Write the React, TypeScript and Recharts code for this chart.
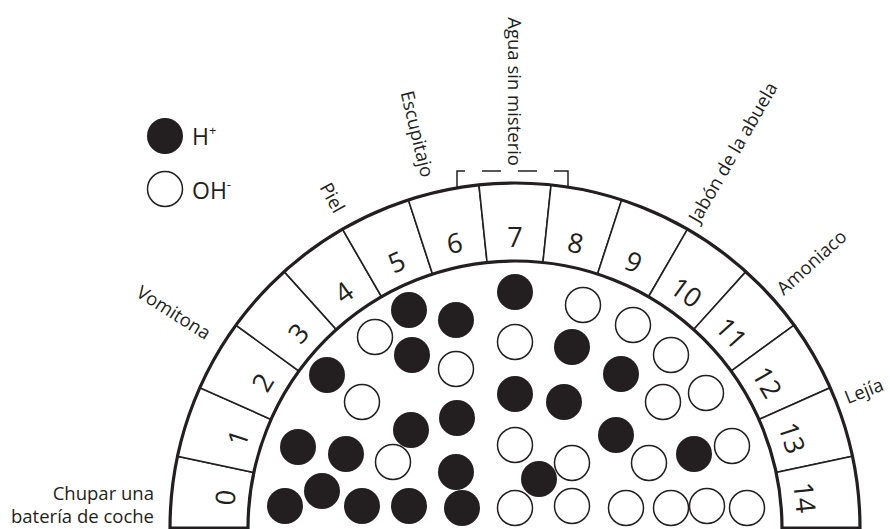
import React from "react";
import { PieChart, Pie, ScatterChart, Scatter, XAxis, YAxis } from "recharts";

// pH ring segments
const phValues = [0, 1, 2, 3, 4, 5, 6, 7, 8, 9, 10, 11, 12, 13, 14];

// everyday samples and where they sit on the scale
const sampleNames = ["Chupar una batería de coche", "Vomitona", "Piel", "Escupitajo", "Agua sin misterio", "Jabón de la abuela", "Amoniaco", "Lejía"];
const samplePh = [0, 2.2, 4.6, 5.85, 7, 9.5, 11, 12.7];

// ions drawn inside the half circle (x: offset from centre, y: height above base)
const hIons = [
  { x: -106, y: 218 }, { x: -59, y: 208 }, { x: -103, y: 173 }, { x: -188, y: 153 },
  { x: -104, y: 98 }, { x: -58, y: 110 }, { x: 0, y: 236 }, { x: 0, y: 134 },
  { x: -217, y: 81 }, { x: -169, y: 74 }, { x: -193, y: 37 }, { x: -230, y: 22 },
  { x: -153, y: 22 }, { x: -106, y: 22 }, { x: -59, y: 56 }, { x: -53, y: 20 },
  { x: 24, y: 49 }, { x: 57, y: 181 }, { x: 106, y: 154 }, { x: 49, y: 126 },
  { x: 101, y: 93 }, { x: 179, y: 74 },
];
const ohIons = [
  { x: -140, y: 191 }, { x: -153, y: 126 }, { x: -59, y: 159 }, { x: -122, y: 66 },
  { x: 0, y: 186 }, { x: 0, y: 83 }, { x: 0, y: 20 }, { x: 68, y: 223 },
  { x: 118, y: 203 }, { x: 156, y: 173 }, { x: 148, y: 126 }, { x: 191, y: 135 },
  { x: 57, y: 65 }, { x: 134, y: 65 }, { x: 217, y: 82 }, { x: 57, y: 22 },
  { x: 111, y: 20 }, { x: 156, y: 20 }, { x: 192, y: 22 }, { x: 232, y: 20 },
];

// dashed bracket over neutral water
const bracket = [{ x: -58, y: 341 }, { x: -58, y: 357 }, { x: 53, y: 357 }, { x: 53, y: 341 }];

const INK = "#231f20";
const FONT = "'Open Sans', sans-serif";
const RADIAN = Math.PI / 180;
const phAngle = (ph: number) => 180 - (ph + 0.5) * 12;

const ringData = phValues.map((v) => ({ ph: v, value: 1 }));
const labelData = sampleNames.map((name, i) => {
  const a = phAngle(samplePh[i]);
  const r = samplePh[i] === 0 ? 363 : a >= 90 ? 362 : 355;
  return { name, angle: a, x: r * Math.cos(a * RADIAN), y: r * Math.sin(a * RADIAN) };
});

const renderNumber = (props: any) => {
  const cx = props.cx ?? 515;
  const cy = props.cy ?? 528;
  const mid = props.midAngle;
  const r = 292;
  const x = cx + r * Math.cos(-mid * RADIAN);
  const y = cy + r * Math.sin(-mid * RADIAN);
  return (
    <text x={x} y={y} transform={`rotate(${90 - mid} ${x} ${y})`} textAnchor="middle" dominantBaseline="central"
      fontSize={27} fontFamily={FONT} fill={INK}>
      {phValues[props.index]}
    </text>
  );
};

const HDot = (p: any) => <circle cx={p.cx} cy={p.cy} r={18} fill={INK} />;
const OHDot = (p: any) => <circle cx={p.cx} cy={p.cy} r={17.5} fill="#fff" stroke={INK} strokeWidth={1.5} />;

const SampleLabel = (p: any) => {
  const { cx, cy, payload } = p;
  if (payload.name.startsWith("Chupar")) {
    const [a, b] = ["Chupar una", "batería de coche"];
    return (
      <text textAnchor="end" fontSize={18.5} fontFamily={FONT} fill={INK}>
        <tspan x={cx} y={cy + 10}>{a}</tspan>
        <tspan x={cx} y={cy + 33}>{b}</tspan>
      </text>
    );
  }
  const left = payload.angle >= 90;
  const rot = left ? 180 - payload.angle : -payload.angle;
  return (
    <text x={cx} y={cy} transform={`rotate(${rot} ${cx} ${cy})`} textAnchor={left ? "end" : "start"}
      dominantBaseline="central" fontSize={18.5} fontFamily={FONT} fill={INK}>
      {payload.name}
    </text>
  );
};

const IonLegend = () => (
  <svg width={110} height={100}>
    <circle cx={21} cy={21} r={18} fill={INK} />
    <text x={48} y={30} fontSize={23} fontFamily={FONT} fill={INK}>
      H<tspan fontSize={13} dy={-10}>+</tspan>
    </text>
    <circle cx={21} cy={74} r={17.5} fill="#fff" stroke={INK} strokeWidth={1.5} />
    <text x={48} y={84} fontSize={23} fontFamily={FONT} fill={INK}>
      OH<tspan fontSize={13} dy={-10}>-</tspan>
    </text>
  </svg>
);

export default function App() {
  return (
    <div style={{ position: "absolute", left: 0, top: 0, width: 890, height: 529, background: "#fff", overflow: "hidden" }}>
      <div style={{ position: "absolute", left: 0, top: 0 }}>
        <PieChart width={890} height={529} margin={{ top: 0, right: 0, bottom: 0, left: 0 }}>
          <Pie data={ringData} dataKey="value" cx={515} cy={528} innerRadius={267} outerRadius={345}
            startAngle={180} endAngle={0} fill="#fff" stroke={INK} strokeWidth={1.6}
            label={renderNumber} labelLine={false} isAnimationActive={false} />
          <Pie data={[{ value: 1 }]} dataKey="value" cx={515} cy={528} innerRadius={267} outerRadius={345}
            startAngle={180} endAngle={0} fill="none" stroke={INK} strokeWidth={3.2} isAnimationActive={false} />
        </PieChart>
      </div>
      <div style={{ position: "absolute", left: 0, top: 0 }}>
        <ScatterChart width={890} height={529} margin={{ top: 0, right: 0, bottom: 0, left: 0 }}>
          <XAxis type="number" dataKey="x" domain={[-515, 375]} hide allowDataOverflow height={0} />
          <YAxis type="number" dataKey="y" domain={[-1, 528]} hide allowDataOverflow width={0} />
          <Scatter name="OH-" data={ohIons} shape={OHDot} isAnimationActive={false} />
          <Scatter name="H+" data={hIons} shape={HDot} isAnimationActive={false} />
          <Scatter name="bracket" data={bracket} shape={() => <g />} isAnimationActive={false}
            line={{ stroke: INK, strokeWidth: 1.5, strokeDasharray: "24 17 19 17 19 17 40" }} lineType="joint" />
          <Scatter name="samples" data={labelData} shape={SampleLabel} isAnimationActive={false} />
        </ScatterChart>
      </div>
      <div style={{ position: "absolute", left: 144, top: 115 }}>
        <IonLegend />
      </div>
    </div>
  );
}
